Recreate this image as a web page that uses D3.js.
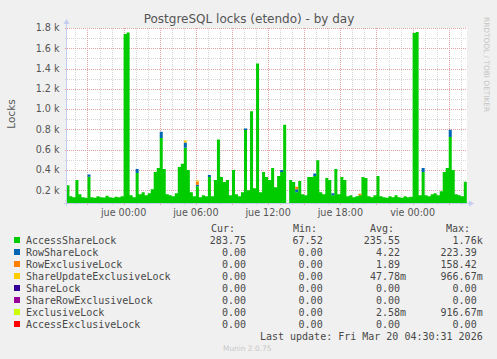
<!DOCTYPE html>
<html>
<head>
<meta charset="utf-8">
<script src="https://cdn.jsdelivr.net/npm/d3@7"></script>
<style>
  body { margin: 0; background: #f0f0f0; }
  svg { display: block; font-family: "DejaVu Sans", sans-serif; }
  .mono { font-family: "DejaVu Sans Mono", monospace; }
</style>
</head>
<body>
<div id="chart"></div>
<script>
// samples every 15 min, value at end of its interval (first one is off-chart)
const sampleStart = new Date(2026, 2, 18, 19, 15);
const sampleStepMin = 15;

const accessShareLock = [220,
  250,140,130,300,160,130,125,334,130,125,
  140,130,128,145,130,125,135,130,140,1740,
  1755,150,130,370,160,180,150,170,210,380,
  420,716,410,160,150,140,170,430,460,620,
  400,180,140,240,130,150,140,330,140,300,
  700,330,280,300,150,400,160,140,180,795,
  200,980,220,1450,180,380,330,300,420,230,
  340,380,845,null,300,280,180,290,160,150,
  330,330,340,495,180,160,320,300,150,410,
  160,330,300,140,150,130,140,150,330,320,
  140,130,150,340,140,130,125,140,130,150,
  130,125,140,130,135,1750,1760,150,380,150,
  140,160,170,150,190,380,420,726,400,160,
  150,140,283];

// small stacked bits on top of the green, [sample time, value]
const rowShareLock = [["2026-03-18T21:15", 20], ["2026-03-19T01:15", 40], ["2026-03-19T03:15", 60],
  ["2026-03-19T05:15", 50], ["2026-03-19T06:15", 15], ["2026-03-19T07:15", 20], ["2026-03-19T10:15", 15],
  ["2026-03-19T13:15", 20], ["2026-03-19T14:30", 30], ["2026-03-19T16:00", 25], ["2026-03-19T17:30", 20],
  ["2026-03-20T01:00", 40], ["2026-03-20T03:15", 70]];
const rowExclusiveLock = [["2026-03-19T06:15", 30], ["2026-03-19T14:30", 25], ["2026-03-19T19:45", 15]];
const shareUpdateExclusiveLock = [["2026-03-19T05:15", 20], ["2026-03-19T06:15", 10]];

const yMin = 74, yMax = 1800;
const yMajor = [200, 400, 600, 800, 1000, 1200, 1400, 1600, 1800];
const yMinor = [100, 300, 500, 700, 900, 1100, 1300, 1500, 1700];
const timeStart = new Date(2026, 2, 18, 19, 18);
const timeEnd = new Date(2026, 2, 20, 4, 31);
const dayNames = ["dom", "lun", "mar", "mié", "jue", "vie", "sáb"];

const legendNames = ["AccessShareLock", "RowShareLock", "RowExclusiveLock", "ShareUpdateExclusiveLock",
  "ShareLock", "ShareRowExclusiveLock", "ExclusiveLock", "AccessExclusiveLock"];
const legendColors = ["#00cc00", "#0066b3", "#ff8000", "#ffcc00", "#330099", "#990099", "#ccff00", "#ff0000"];
const curVals = ["283.75", "0.00", "0.00", "0.00", "0.00", "0.00", "0.00", "0.00"];
const minVals = ["67.52", "0.00", "0.00", "0.00", "0.00", "0.00", "0.00", "0.00"];
const avgVals = ["235.55", "4.22", "1.89", "47.78m", "0.00", "0.00", "2.58m", "0.00"];
const maxVals = ["1.76k", "223.39", "158.42", "966.67m", "0.00", "0.00", "916.67m", "0.00"];

const W = 497, H = 359;
const plot = {left: 67, right: 467, top: 28, bottom: 203};

const svg = d3.select("#chart").append("svg").attr("width", W).attr("height", H);
svg.append("rect").attr("width", W).attr("height", H).attr("fill", "#f0f0f0");

const x = d3.scaleTime().domain([timeStart, timeEnd]).range([plot.left, plot.right]);
const y = d3.scaleLinear().domain([yMin, yMax]).range([plot.bottom, plot.top]);

svg.append("rect")
  .attr("x", plot.left).attr("y", plot.top)
  .attr("width", plot.right - plot.left).attr("height", plot.bottom - plot.top)
  .attr("fill", "#fff");

// build sample table
const n = accessShareLock.length;
const idxOf = s => Math.round((new Date(s) - sampleStart) / 60000 / sampleStepMin);
const spread = pairs => {
  const a = new Array(n).fill(0);
  pairs.forEach(([t, v]) => { a[idxOf(t)] = v; });
  return a;
};
const rs = spread(rowShareLock), re = spread(rowExclusiveLock), su = spread(shareUpdateExclusiveLock);
const table = accessShareLock.map((v, i) => ({
  t: new Date(+sampleStart + i * sampleStepMin * 60000),
  gap: v == null,
  a: v == null ? 0 : v,
  b: v == null ? 0 : rs[i],
  c: v == null ? 0 : re[i],
  d: v == null ? 0 : su[i]
}));
const keys = ["a", "b", "c", "d"];
const stacked = d3.stack().keys(keys)(table);

// grid
const grid = svg.append("g");
const gy = (vals, color) => grid.selectAll(null).data(vals.filter(v => v > yMin)).join("line")
  .attr("x1", plot.left - 2).attr("x2", plot.right)
  .attr("y1", d => Math.round(y(d)) + 0.5).attr("y2", d => Math.round(y(d)) + 0.5)
  .attr("stroke", color).attr("stroke-dasharray", "1,1");
const hours = x.ticks(d3.timeHour.every(1));
const gx = (vals, color) => grid.selectAll(null).data(vals).join("line")
  .attr("y1", plot.top).attr("y2", plot.bottom + 2)
  .attr("x1", d => Math.round(x(d)) + 0.5).attr("x2", d => Math.round(x(d)) + 0.5)
  .attr("stroke", color).attr("stroke-dasharray", "1,1");
gy(yMinor, "#d6d6d6");
gx(hours.filter(d => d.getHours() % 3 != 0), "#d6d6d6");
gy(yMajor, "#e6a2a2");
gx(hours.filter(d => d.getHours() % 3 == 0), "#e6a2a2");

// areas
svg.append("clipPath").attr("id", "clip").append("rect")
  .attr("x", plot.left).attr("y", plot.top - 5)
  .attr("width", plot.right - plot.left).attr("height", plot.bottom - plot.top + 5);

const area = d3.area()
  .curve(d3.curveStepBefore)
  .x(d => x(d.data.t))
  .y1(d => d.data.gap ? y(yMin) : y(d[1]));

svg.append("g").attr("clip-path", "url(#clip)")
  .selectAll("path").data(stacked).join("path")
  .attr("fill", (s, i) => legendColors[i])
  .attr("d", s => area.y0(d => s.index == 0 || d.data.gap ? y(yMin) : y(d[0]))(s));

// axes
const axisColor = "#c4ccf0";
svg.append("line").attr("x1", plot.left - 0.5).attr("x2", plot.left - 0.5)
  .attr("y1", plot.bottom + 3).attr("y2", plot.top - 6).attr("stroke", axisColor);
svg.append("path").attr("d", `M${plot.left - 3.5},${plot.top - 4} L${plot.left - 0.5},${plot.top - 9} L${plot.left + 2.5},${plot.top - 4}Z`).attr("fill", axisColor);
svg.append("line").attr("x1", plot.left - 3).attr("x2", plot.right + 4)
  .attr("y1", plot.bottom + 0.5).attr("y2", plot.bottom + 0.5).attr("stroke", axisColor);
svg.append("path").attr("d", `M${plot.right + 2},${plot.bottom - 2.5} L${plot.right + 7},${plot.bottom + 0.5} L${plot.right + 2},${plot.bottom + 3.5}Z`).attr("fill", axisColor);

// tick labels
svg.append("g").selectAll("text").data(yMajor).join("text")
  .attr("x", 59.5).attr("y", d => y(d)).attr("dy", "0.35em")
  .attr("text-anchor", "end").attr("font-size", 9.6).attr("fill", "#555")
  .text(d => d3.format(".1f")(d / 1000) + " k");
const fmt = d3.timeFormat("%H:%M");
svg.append("g").selectAll("text").data(x.ticks(d3.timeHour.every(6))).join("text")
  .attr("x", d => x(d)).attr("y", 213).attr("dy", "0.35em")
  .attr("text-anchor", "middle").attr("font-size", 9.6).attr("fill", "#555")
  .text(d => dayNames[d.getDay()] + " " + fmt(d));

// titles
svg.append("text").attr("x", 249).attr("y", 19).attr("dy", "0.35em")
  .attr("text-anchor", "middle").attr("font-size", 12).attr("fill", "#555")
  .text("PostgreSQL locks (etendo) - by day");
svg.append("text").attr("transform", "translate(11,114) rotate(-90)").attr("dy", "0.35em")
  .attr("text-anchor", "middle").attr("font-size", 10.5).attr("fill", "#555").text("Locks");
svg.append("text").attr("transform", "translate(487,17) rotate(90)").attr("dy", "0.35em")
  .attr("font-size", 7.4).attr("fill", "#c4c4c4").text("RRDTOOL / TOBI OETIKER");

// legend
const charW = 6.02;
const colEnds = [252, 328.7, 406, 482.7];
const legend = svg.append("g").attr("class", "mono").attr("font-size", 10).attr("fill", "#484848");
["Cur:", "Min:", "Avg:", "Max:"].forEach((h, j) => {
  legend.append("text").attr("x", [235, 317, 394, 470][j]).attr("y", 228).attr("dy", "0.35em")
    .attr("text-anchor", "end").text(h);
});
const cols = [curVals, minVals, avgVals, maxVals];
legendNames.forEach((name, i) => {
  const ry = 240 + i * 12;
  legend.append("rect").attr("x", 14).attr("y", ry - 3).attr("width", 6).attr("height", 6)
    .attr("fill", legendColors[i]);
  legend.append("text").attr("x", 26).attr("y", ry).attr("dy", "0.35em").text(name);
  cols.forEach((c, j) => {
    const v = c[i];
    const end = /[a-z]$/.test(v) ? colEnds[j] : colEnds[j] - charW;
    legend.append("text").attr("x", end).attr("y", ry).attr("dy", "0.35em")
      .attr("text-anchor", "end").text(v);
  });
});
legend.append("text").attr("x", 482.7).attr("y", 336).attr("dy", "0.35em")
  .attr("text-anchor", "end").text("Last update: Fri Mar 20 04:30:31 2026");
svg.append("text").attr("x", 223).attr("y", 348).attr("dy", "0.35em")
  .attr("font-size", 7.4).attr("fill", "#c8c8c8").text("Munin 2.0.75");
</script>
</body>
</html>
